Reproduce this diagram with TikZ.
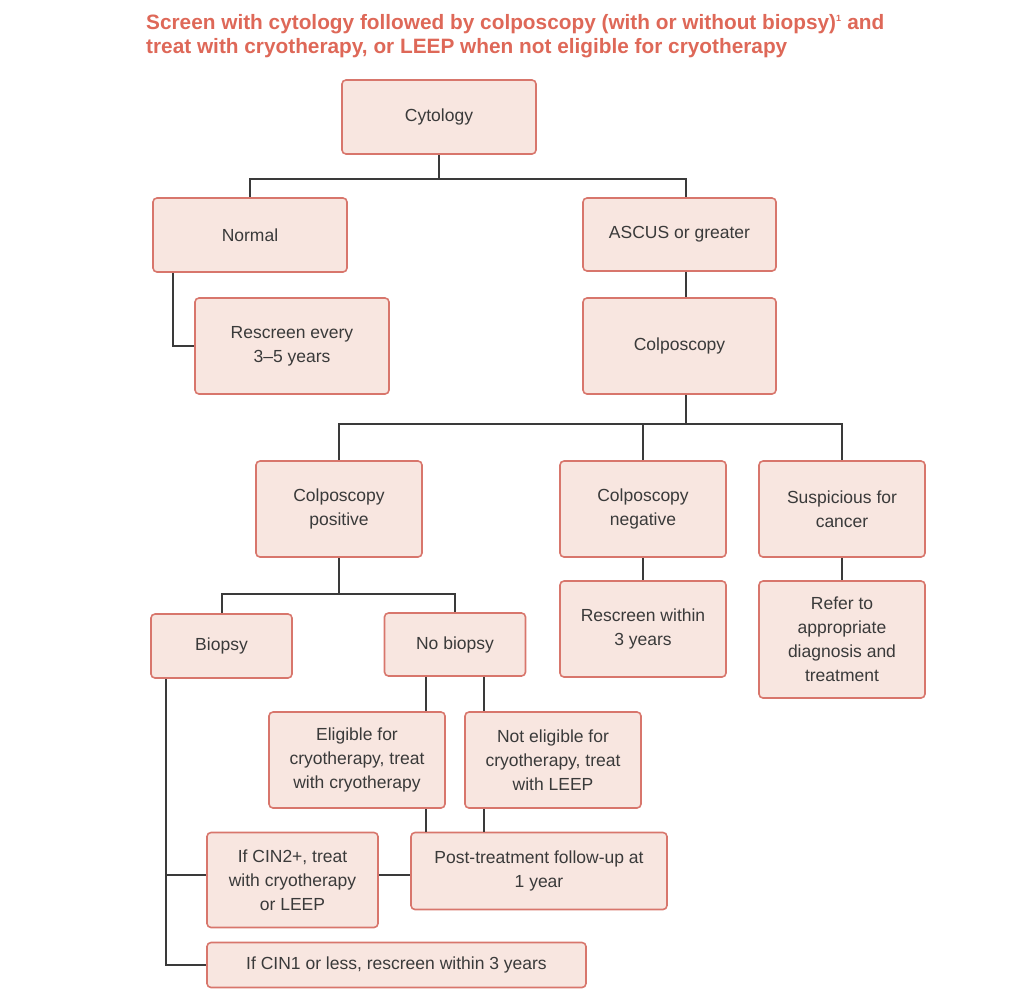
\documentclass[tikz,border=0pt]{standalone}
\usepackage{fontspec}
\setmainfont{Liberation Sans}
\usetikzlibrary{positioning}
\definecolor{Salmon}{RGB}{222,104,88}
\definecolor{BoxFill}{RGB}{248,230,224}
\definecolor{BoxLine}{RGB}{216,118,108}
\definecolor{Ink}{RGB}{58,58,58}

\begin{document}
\begin{tikzpicture}[x=1pt, y=-1pt,
	box/.style={draw=BoxLine, fill=BoxFill, line width=1.6pt, rounded corners=4pt,
		align=center, text=Ink, inner sep=0pt, font=\fontsize{17.5}{24}\selectfont},
	link/.style={draw=Ink, line width=2pt},
	heading/.style={text=Salmon, align=left, inner sep=0pt, font=\fontsize{20.8}{24}\selectfont\bfseries}]
	\useasboundingbox (0,0) rectangle (1024,1002);

	\node[heading, anchor=north west] (head) at (146,14)
		{Screen with cytology followed by colposcopy (with or without biopsy)\textsuperscript{\fontsize{9}{9}\selectfont 1} and\\
		 treat with cryotherapy, or LEEP when not eligible for cryotherapy};

	% boxes
	\node[box, minimum width=194, minimum height=74] (cyto) at (439,117) {Cytology};
	\node[box, minimum width=194, minimum height=74] (normal) at (250,235) {Normal};
	\node[box, minimum width=193, minimum height=73] (ascus) at (679.5,234.5) {ASCUS or greater};
	\node[box, minimum width=194, minimum height=96] (rescr) at (292,346) {Rescreen every\\3--5 years};
	\node[box, minimum width=193, minimum height=96] (colpo) at (679.5,346) {Colposcopy};
	\node[box, minimum width=166, minimum height=96] (pos) at (339,509) {Colposcopy\\positive};
	\node[box, minimum width=166, minimum height=96] (neg) at (643,509) {Colposcopy\\negative};
	\node[box, minimum width=166, minimum height=96] (susp) at (842,509) {Suspicious for\\cancer};
	\node[box, minimum width=141, minimum height=64] (biopsy) at (221.5,646) {Biopsy};
	\node[box, minimum width=141, minimum height=63] (nobiop) at (455,644.5) {No biopsy};
	\node[box, minimum width=166, minimum height=96] (rescrthree) at (643,629) {Rescreen within\\3 years};
	\node[box, minimum width=166, minimum height=117] (refer) at (842,639.5) {Refer to\\appropriate\\diagnosis and\\treatment};
	\node[box, minimum width=176, minimum height=96] (elig) at (357,760) {Eligible for\\cryotherapy, treat\\with cryotherapy};
	\node[box, minimum width=176, minimum height=96] (notelig) at (553,760) {Not eligible for\\cryotherapy, treat\\with LEEP};
	\node[box, minimum width=171, minimum height=95] (cintwo) at (292.5,880) {If CIN2+, treat\\with cryotherapy\\or LEEP};
	\node[box, minimum width=256, minimum height=77] (post) at (539,871) {Post-treatment follow-up at\\1 year};
	\node[box, minimum width=379, minimum height=45] (cinone) at (396.5,965) {If CIN1 or less, rescreen within 3 years};

	% vertical lines that are not centred on a box
	\coordinate (ax) at (686,0);
	\coordinate (nx) at (173,0);
	\coordinate (ex) at (426,0);
	\coordinate (lx) at (484,0);
	\coordinate (bx) at (166,0);
	\coordinate (cy) at (0,875);

	% connectors
	\draw[link] (cyto.south) -- ++(0,24) coordinate (jone);
	\draw[link] (normal.north) |- (jone) -| (ascus.north -| ax);
	\draw[link] (ascus.south -| ax) -- (colpo.north -| ax);
	\draw[link] (normal.south -| nx) |- (rescr.west);
	\draw[link] (colpo.south -| ax) -- ++(0,29) coordinate (jtwo);
	\draw[link] (pos.north) |- (jtwo) -| (susp.north);
	\draw[link] (neg.north) -- (neg.north |- jtwo);
	\draw[link] (neg) -- (rescrthree);
	\draw[link] (susp) -- (refer);
	\draw[link] (pos.south) -- ++(0,36) coordinate (jthree);
	\draw[link] (biopsy.north) |- (jthree) -| (nobiop.north);
	\draw[link] (nobiop.south -| ex) -- (elig.north -| ex);
	\draw[link] (nobiop.south -| lx) -- (notelig.north -| lx);
	\draw[link] (elig.south -| ex) -- (post.north -| ex);
	\draw[link] (notelig.south -| lx) -- (post.north -| lx);
	\draw[link] (biopsy.south -| bx) |- (cinone.west);
	\draw[link] (bx |- cy) -- (cintwo.west |- cy);
	\draw[link] (cintwo.east |- cy) -- (post.west |- cy);
\end{tikzpicture}
\end{document}
